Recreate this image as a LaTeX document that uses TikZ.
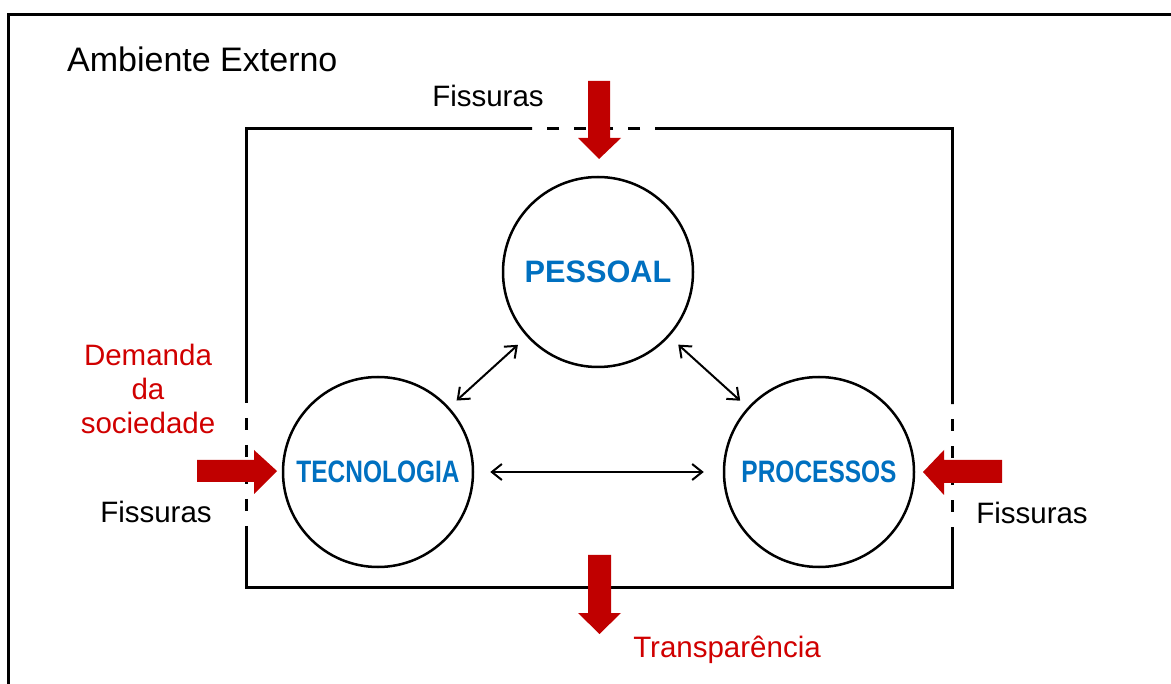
\documentclass[tikz,border=0pt]{standalone}
\usepackage{fontspec}
\usepackage{graphicx}
\setmainfont{Liberation Sans}
\usetikzlibrary{arrows.meta}
\definecolor{arrred}{RGB}{192,0,0}
\definecolor{txtred}{RGB}{208,0,0}
\definecolor{lblue}{RGB}{0,112,192}
\begin{document}
\begin{tikzpicture}[x=1pt,y=-1pt,
  frame/.style={line width=3pt},
  fissure/.style={line width=3pt, dash pattern=on 12pt off 15pt, dash phase=12pt},
  hub/.style={circle, draw, line width=2.5pt, minimum size=190pt, inner sep=0pt, text=lblue, font=\fontsize{31}{31}\selectfont\bfseries},
  lbl/.style={anchor=base, inner sep=0pt, font=\fontsize{29.5}{34}\selectfont},
  dbl/.style={line width=2pt, {Straight Barb[length=10pt,width=16pt]}-{Straight Barb[length=10pt,width=16pt]}},
  blockarrow/.style={fill=arrred}]
\useasboundingbox (0,0) rectangle (1171,684);
% outer environment frame
\draw[frame] (8,690) -- (8,15) -- (1180,15);
% inner organisation frame with fissures
\draw[frame] (532,129) -- (246,129) -- (246,403);
\draw[fissure] (246,403) -- (246,527);
\draw[frame] (246,527) -- (246,587) -- (952,587) -- (952,527);
\draw[fissure] (952,527) -- (952,404);
\draw[frame] (952,404) -- (952,129) -- (655,129);
\draw[fissure] (655,129) -- (532,129);
% labels
\node[lbl, anchor=base west, font=\fontsize{34}{36}\selectfont] (amb) at (67,72) {Ambiente Externo};
\node[lbl] (fistop) at (488,107) {Fissuras};
\node[lbl] (fisleft) at (156,523) {Fissuras};
\node[lbl] (fisright) at (1032,524) {Fissuras};
\node[lbl, anchor=north, align=center, text=txtred] (dem) at (148,344) {Demanda\\da\\sociedade};
\node[lbl, text=txtred] (transp) at (727,657) {Transparência};
% hubs
\node[hub] (pes) at (598,272) {\scalebox{0.99}[1]{PESSOAL}};
\node[hub] (tec) at (378,472) {\scalebox{0.79}[1]{TECNOLOGIA}};
\node[hub] (proc) at (819,472) {\scalebox{0.79}[1]{PROCESSOS}};
% relations
\draw[dbl, shorten <=12pt, shorten >=10pt] (pes) -- (tec);
\draw[dbl, shorten <=12pt, shorten >=10pt] (pes) -- (proc);
\draw[dbl, shorten <=16pt, shorten >=19pt] (tec) -- (proc);
% red block arrows
\fill[blockarrow] (588,81) -- (610,81) -- (610,138) -- (621,138) -- (599,159) -- (578,138) -- (588,138) -- cycle;
\fill[blockarrow] (588,555) -- (611,555) -- (611,613) -- (621,613) -- (599.5,634) -- (578,613) -- (588,613) -- cycle;
\fill[blockarrow] (197,460) -- (254,460) -- (254,450) -- (277,471) -- (254,494) -- (254,482) -- (197,482) -- cycle;
\fill[blockarrow] (1002,460) -- (944,460) -- (944,450) -- (923,472) -- (944,495) -- (944,483) -- (1002,483) -- cycle;
\end{tikzpicture}
\end{document}
